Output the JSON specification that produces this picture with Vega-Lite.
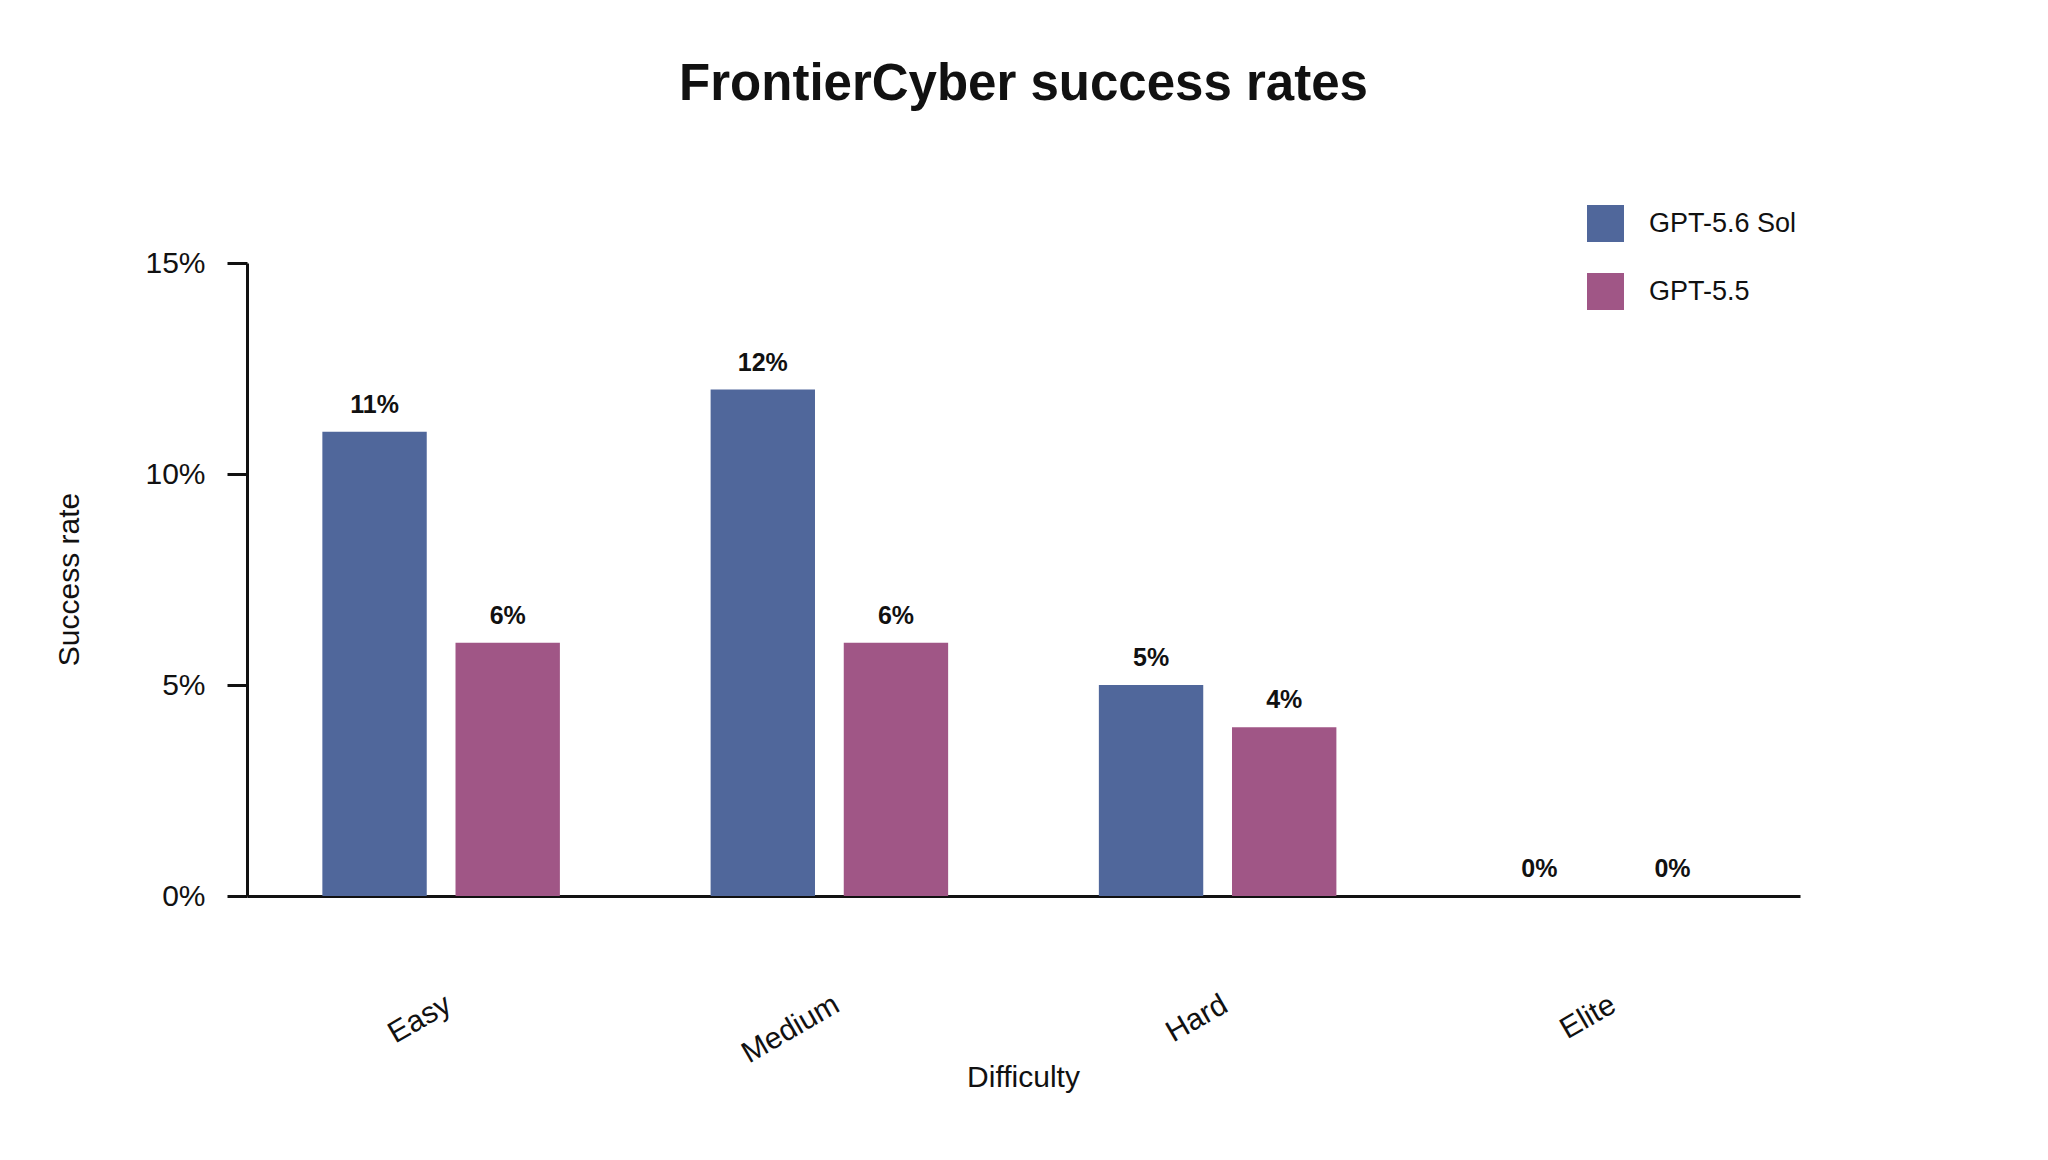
{
  "$schema": "https://vega.github.io/schema/vega-lite/v6.json",
  "width": 1553,
  "height": 633,
  "autosize": {"type": "none"},
  "padding": {"left": 247, "top": 263, "right": 248, "bottom": 264},
  "background": "white",
  "title": {
    "text": "FrontierCyber success rates",
    "fontSize": 51,
    "fontWeight": "bold",
    "color": "#111111",
    "anchor": "middle",
    "baseline": "alphabetic",
    "offset": 54
  },
  "data": {
    "values": [
      {"difficulty": "Easy", "model": "GPT-5.6 Sol", "rate": 0.11},
      {"difficulty": "Easy", "model": "GPT-5.5", "rate": 0.06},
      {"difficulty": "Medium", "model": "GPT-5.6 Sol", "rate": 0.12},
      {"difficulty": "Medium", "model": "GPT-5.5", "rate": 0.06},
      {"difficulty": "Hard", "model": "GPT-5.6 Sol", "rate": 0.05},
      {"difficulty": "Hard", "model": "GPT-5.5", "rate": 0.04},
      {"difficulty": "Elite", "model": "GPT-5.6 Sol", "rate": 0.0},
      {"difficulty": "Elite", "model": "GPT-5.5", "rate": 0.0}
    ]
  },
  "encoding": {
    "x": {
      "field": "difficulty",
      "type": "nominal",
      "sort": ["Easy", "Medium", "Hard", "Elite"],
      "title": "Difficulty",
      "scale": {"paddingInner": 0, "paddingOuter": 0},
      "axis": {
        "ticks": false,
        "domainWidth": 3,
        "domainColor": "#111111",
        "labelAngle": -30,
        "labelAlign": "right",
        "labelBaseline": "top",
        "labelPadding": 93,
        "labelFontSize": 30,
        "labelColor": "#111111",
        "titleFontSize": 30,
        "titleFontWeight": "normal",
        "titleColor": "#111111",
        "titleX": 776,
        "titleY": 190,
        "titleBaseline": "alphabetic"
      }
    },
    "xOffset": {
      "field": "model",
      "type": "nominal",
      "sort": ["GPT-5.6 Sol", "GPT-5.5"],
      "scale": {"paddingInner": 0.216, "paddingOuter": 0.566}
    },
    "y": {
      "field": "rate",
      "type": "quantitative",
      "title": "Success rate",
      "scale": {"domain": [0, 0.15], "nice": false},
      "axis": {
        "values": [0, 0.05, 0.1, 0.15],
        "format": ".0%",
        "grid": false,
        "domainWidth": 3,
        "domainColor": "#111111",
        "tickSize": 20,
        "tickWidth": 3,
        "tickColor": "#111111",
        "labelPadding": 22,
        "labelFontSize": 30,
        "labelColor": "#111111",
        "titleFontSize": 30,
        "titleFontWeight": "normal",
        "titleColor": "#111111",
        "titleX": -169,
        "titleY": 316,
        "titleAngle": -90,
        "titleAlign": "center",
        "titleBaseline": "alphabetic"
      }
    },
    "color": {
      "field": "model",
      "type": "nominal",
      "scale": {
        "domain": ["GPT-5.6 Sol", "GPT-5.5"],
        "range": ["#50679b", "#a05686"]
      },
      "legend": {
        "orient": "none",
        "legendX": 1340,
        "legendY": -58,
        "title": null,
        "padding": 0,
        "symbolType": "square",
        "symbolSize": 1369,
        "symbolStrokeWidth": 0,
        "symbolOpacity": 1,
        "labelFontSize": 27,
        "labelColor": "#111111",
        "labelOffset": 25,
        "rowPadding": 31
      }
    }
  },
  "layer": [
    {"mark": {"type": "bar"}},
    {
      "mark": {
        "type": "text",
        "dy": -19,
        "baseline": "alphabetic",
        "fontSize": 25,
        "fontWeight": "bold",
        "color": "#111111"
      },
      "encoding": {
        "text": {"field": "rate", "type": "quantitative", "format": ".0%"},
        "color": {"value": "#111111"}
      }
    }
  ],
  "config": {
    "font": "Liberation Sans",
    "view": {"stroke": null}
  }
}
